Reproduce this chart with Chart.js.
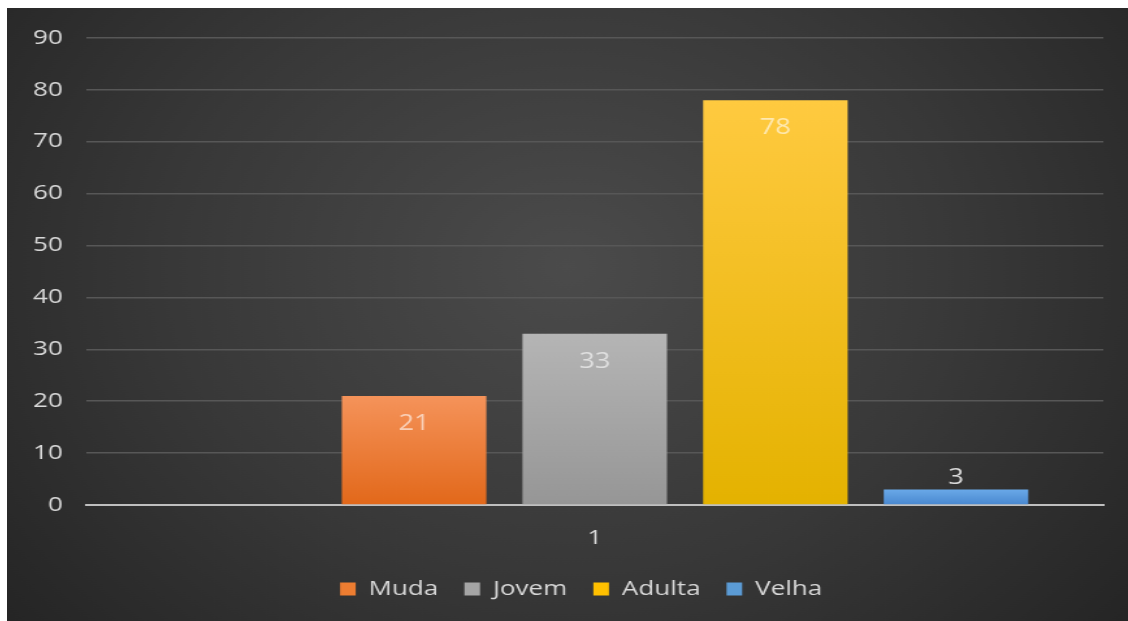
<!DOCTYPE html>
<html>
<head>
<meta charset="utf-8">
<script src="https://cdn.jsdelivr.net/npm/chart.js@4/dist/chart.umd.min.js"></script>
<style>
  html, body { margin: 0; padding: 0; background: #ffffff; }
  #wrap { position: absolute; left: 7px; top: 8px; width: 1121px; height: 613px; }
  #ageChart { display: block; }
</style>
</head>
<body>
<div id="wrap">
  <!-- canvas is drawn narrow and stretched sideways, like the original export -->
  <canvas id="ageChart" width="862" height="613" style="width:1121px;height:613px"></canvas>
</div>
<script>
// Tree counts by age class
const categories = ["1"];
const seriesNames = ["", "Muda", "Jovem", "Adulta", "Velha"]; // first slot is an empty series
const seriesValues = [null, 21, 33, 78, 3];
const yTicks = [0, 10, 20, 30, 40, 50, 60, 70, 80, 90];

const topColors = ["#000000", "#f5935a", "#b5b5b5", "#ffca40", "#6aa9e8"];
const bottomColors = ["#000000", "#e2681a", "#969696", "#e4b200", "#4887cf"];
const legendColors = ["#000000", "#ed7d31", "#a5a5a5", "#ffc000", "#5b9bd5"];

Chart.defaults.font.family = "'Open Sans', 'Noto Sans', sans-serif";
Chart.defaults.color = "#d9d9d9";

// vertical gradient over each bar, from its top down to the axis
function barFill(i) {
  return (context) => {
    const chart = context.chart;
    const area = chart.chartArea;
    if (!area) return legendColors[i];
    const v = context.raw;
    if (v == null) return legendColors[i];
    const yScale = chart.scales.y;
    const top = yScale.getPixelForValue(v);
    const bottom = yScale.getPixelForValue(0);
    const g = chart.ctx.createLinearGradient(0, top, 0, bottom);
    g.addColorStop(0, topColors[i]);
    g.addColorStop(1, bottomColors[i]);
    return g;
  };
}

const background = {
  id: "background",
  beforeDraw(chart) {
    const { ctx, width, height } = chart;
    const cx = width * 0.5, cy = height * 0.42;
    const g = ctx.createRadialGradient(cx, cy, 0, cx, cy, Math.hypot(cx, height - cy));
    g.addColorStop(0, "#4b4b4b");
    g.addColorStop(0.55, "#383838");
    g.addColorStop(1, "#252525");
    ctx.save();
    ctx.fillStyle = g;
    ctx.fillRect(0, 0, width, height);
    ctx.restore();
  }
};

// legend sits a little right of centre
const legendNudge = {
  id: "legendNudge",
  afterLayout(chart) {
    if (chart.legend) {
      chart.legend.left += 19;
      chart.legend.right += 19;
    }
  }
};

// value labels: inside the top of tall bars, above short ones
const valueLabels = {
  id: "valueLabels",
  afterDatasetsDraw(chart) {
    const ctx = chart.ctx;
    ctx.save();
    ctx.font = "21px 'Open Sans', sans-serif";
    ctx.textAlign = "center";
    ctx.textBaseline = "middle";
    chart.data.datasets.forEach((ds, i) => {
      if (!ds.label) return;
      chart.getDatasetMeta(i).data.forEach((bar, j) => {
        const v = ds.data[j];
        if (v == null) return;
        if (bar.base - bar.y > 40) {
          ctx.fillStyle = "rgba(255,255,255,0.6)";
          ctx.fillText(String(v), bar.x, bar.y + 28);
        } else {
          ctx.fillStyle = "#d9d9d9";
          ctx.fillText(String(v), bar.x, bar.y - 11);
        }
      });
    });
    ctx.restore();
  }
};

const datasets = seriesNames.map((name, i) => ({
  label: name,
  data: [seriesValues[i]],
  backgroundColor: barFill(i),
  borderWidth: 0,
  categoryPercentage: 0.888,
  barPercentage: 0.8
}));

new Chart(document.getElementById("ageChart"), {
  type: "bar",
  data: { labels: categories, datasets: datasets },
  options: {
    responsive: false,
    animation: false,
    devicePixelRatio: 1,
    layout: { padding: { left: 2, right: 19, top: 17, bottom: 12 } },
    plugins: {
      tooltip: { enabled: false },
      legend: {
        position: "bottom",
        labels: {
          color: "#d9d9d9",
          font: { size: 20 },
          boxWidth: 12,
          boxHeight: 13,
          padding: 20,
          filter: item => item.text !== "",
          generateLabels: chart => chart.data.datasets.map((ds, i) => ({
            text: ds.label,
            fillStyle: legendColors[i],
            strokeStyle: legendColors[i],
            lineWidth: 0,
            fontColor: "#d9d9d9",
            datasetIndex: i
          }))
        }
      }
    },
    scales: {
      x: {
        grid: { display: false, drawTicks: false },
        border: { display: true, color: "#bfbfbf", width: 2 },
        ticks: { color: "#d9d9d9", font: { size: 20 }, padding: 21 },
        afterFit: scale => { scale.height -= 12; }
      },
      y: {
        min: 0,
        max: 90,
        afterBuildTicks: axis => { axis.ticks = yTicks.map(v => ({ value: v })); },
        grid: { color: "#575757", lineWidth: 1.5, drawTicks: false },
        border: { display: false },
        ticks: { color: "#d9d9d9", font: { size: 20 }, padding: 18 }
      }
    }
  },
  plugins: [background, legendNudge, valueLabels]
});
</script>
</body>
</html>
